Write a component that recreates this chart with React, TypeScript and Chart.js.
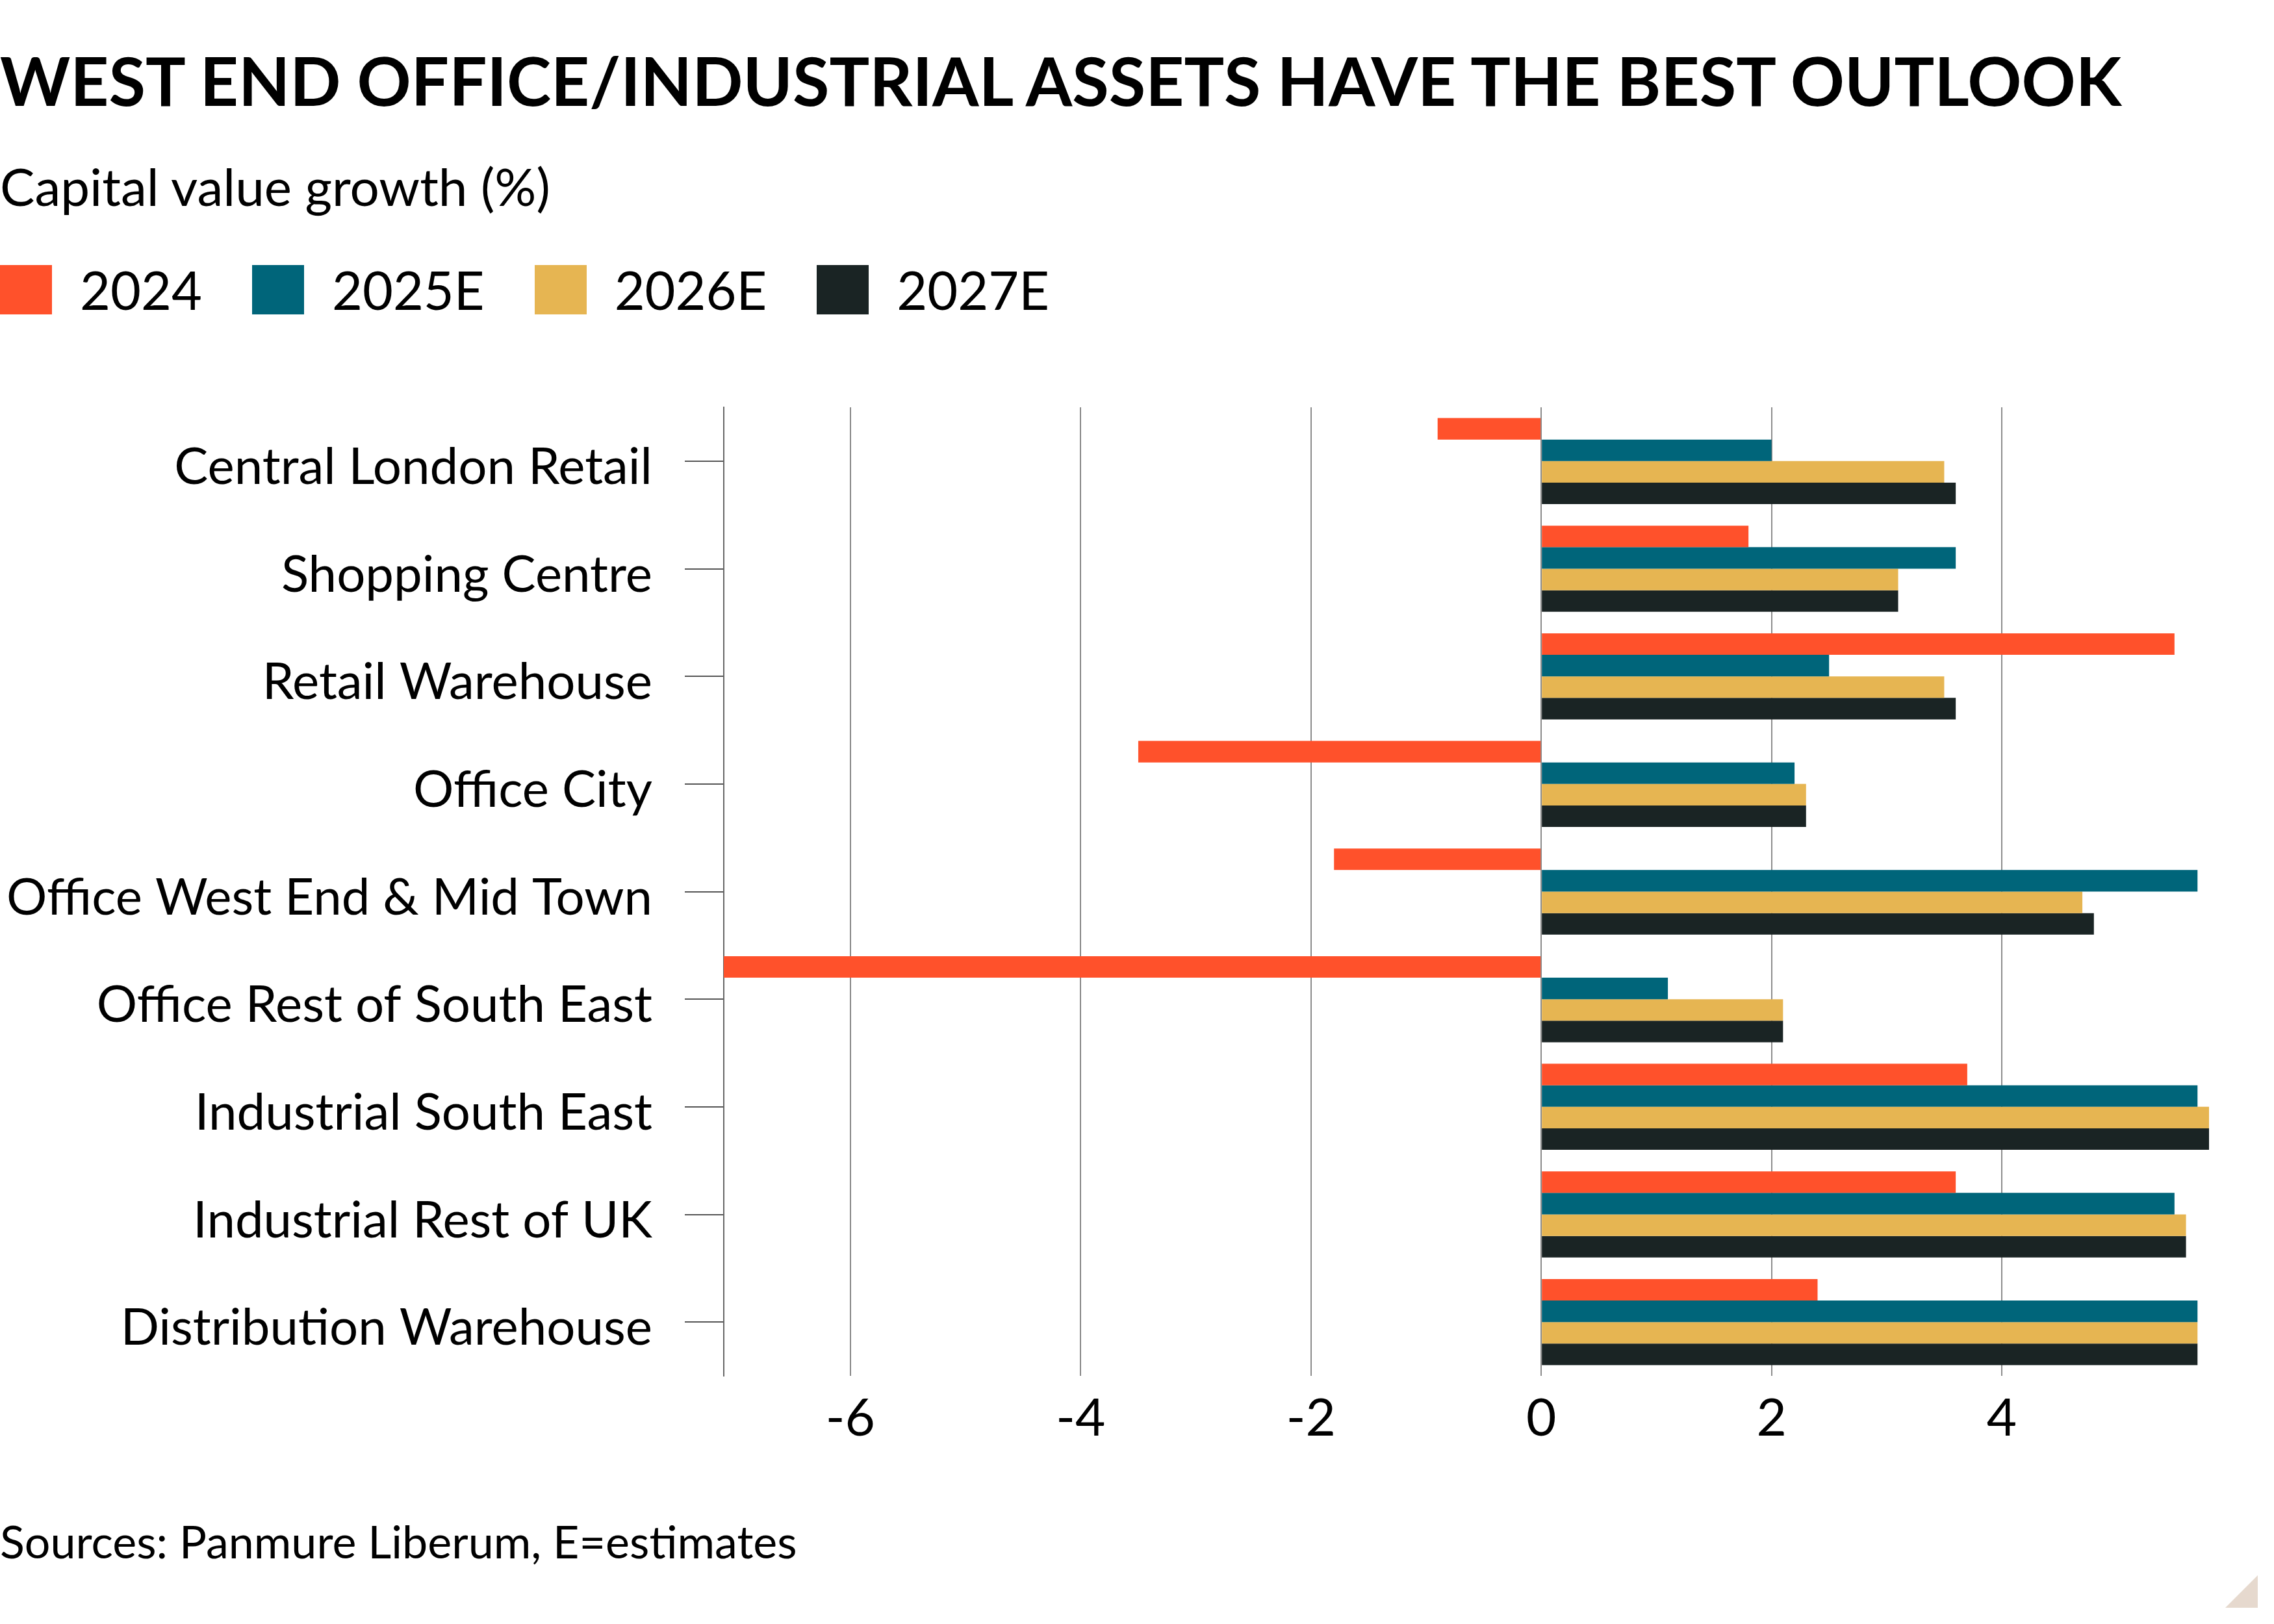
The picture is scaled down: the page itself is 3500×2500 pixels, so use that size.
import { useEffect, useRef } from "react"
import { Chart, registerables } from "chart.js"

Chart.register(...registerables)

const FONT = 'Lato, "Noto Sans", sans-serif'

const categories = [
  "Central London Retail",
  "Shopping Centre",
  "Retail Warehouse",
  "Office City",
  "Office West End & Mid Town",
  "Office Rest of South East",
  "Industrial South East",
  "Industrial Rest of UK",
  "Distribution Warehouse",
]

const seriesLabels = ["2024", "2025E", "2026E", "2027E"]
const seriesColors = ["#ff512b", "#00657a", "#e6b552", "#1a2424"]

const values2024 = [-0.9, 1.8, 5.5, -3.5, -1.8, -7.1, 3.7, 3.6, 2.4]
const values2025 = [2.0, 3.6, 2.5, 2.2, 5.7, 1.1, 5.7, 5.5, 5.7]
const values2026 = [3.5, 3.1, 3.5, 2.3, 4.7, 2.1, 5.8, 5.6, 5.7]
const values2027 = [3.6, 3.1, 3.6, 2.3, 4.8, 2.1, 5.8, 5.6, 5.7]

const xTicks = [-6, -4, -2, 0, 2, 4]

export default function App() {
  const chartRef = useRef<HTMLCanvasElement>(null)
  const chartInstance = useRef<Chart | null>(null)

  useEffect(() => {
    document.body.style.margin = "0"
    if (!chartRef.current) return

    if (chartInstance.current) {
      chartInstance.current.destroy()
    }

    const ctx = chartRef.current.getContext("2d")
    if (!ctx) return

    const series = [values2024, values2025, values2026, values2027]
    const all = series.flat()

    chartInstance.current = new Chart(ctx, {
      type: "bar",
      data: {
        labels: categories,
        datasets: series.map((data, i) => ({
          label: seriesLabels[i],
          data,
          backgroundColor: seriesColors[i],
          borderWidth: 0,
          categoryPercentage: 0.8,
          barPercentage: 1,
        })),
      },
      options: {
        indexAxis: "y",
        responsive: false,
        animation: false,
        devicePixelRatio: 1,
        layout: { padding: { top: 627, right: 100, bottom: 250, left: 0 } },
        plugins: {
          legend: { display: false },
          tooltip: { enabled: false },
        },
        scales: {
          x: {
            min: Math.min(...all),
            max: Math.max(...all),
            afterBuildTicks: (scale) => {
              scale.ticks = xTicks.map((value) => ({ value }))
            },
            afterFit: (scale) => {
              scale.height = 132
            },
            grid: { color: "#8c8c8c", lineWidth: 2, drawTicks: false },
            border: { display: false },
            ticks: {
              font: { family: FONT, size: 80 },
              color: "#000",
              padding: 18,
            },
          },
          y: {
            afterFit: (scale) => {
              scale.width = 1114
            },
            grid: { drawOnChartArea: false, offset: false, tickLength: 60, color: "#555", lineWidth: 2 },
            border: { display: true, color: "#666", width: 2 },
            ticks: {
              font: { family: FONT, size: 78 },
              color: "#000",
              padding: 50,
              labelOffset: 10,
            },
          },
        },
      },
    })

    return () => {
      if (chartInstance.current) {
        chartInstance.current.destroy()
        chartInstance.current = null
      }
    }
  }, [])

  return (
    <div style={{ position: "relative", width: 3500, height: 2500, background: "#fff", fontFamily: FONT, color: "#000" }}>
      <canvas ref={chartRef} width={3500} height={2500} style={{ position: "absolute", left: 0, top: 0 }} />
      <div style={{ position: "absolute", left: 0, top: 72, fontSize: 103, fontWeight: 700, lineHeight: 1, whiteSpace: "nowrap" }}>
        WEST END OFFICE/INDUSTRIAL ASSETS HAVE THE BEST OUTLOOK
      </div>
      <div style={{ position: "absolute", left: 0, top: 246, fontSize: 80, lineHeight: 1, whiteSpace: "nowrap" }}>
        Capital value growth (%)
      </div>
      <div style={{ position: "absolute", left: 0, top: 408, display: "flex", alignItems: "center" }}>
        {seriesLabels.map((label, i) => (
          <div key={label} style={{ display: "flex", alignItems: "center", marginRight: 77 }}>
            <div style={{ width: 80, height: 76, background: seriesColors[i] }} />
            <div style={{ marginLeft: 43, fontSize: 81, lineHeight: "76px" }}>{label}</div>
          </div>
        ))}
      </div>
      <div style={{ position: "absolute", left: 0, top: 2337, fontSize: 70, lineHeight: 1, whiteSpace: "nowrap" }}>
        Sources: Panmure Liberum, E=estimates
      </div>
      <div
        style={{
          position: "absolute",
          left: 3425,
          top: 2425,
          width: 50,
          height: 50,
          background: "#e6d9ce",
          clipPath: "polygon(100% 0, 100% 100%, 0 100%)",
        }}
      />
    </div>
  )
}
